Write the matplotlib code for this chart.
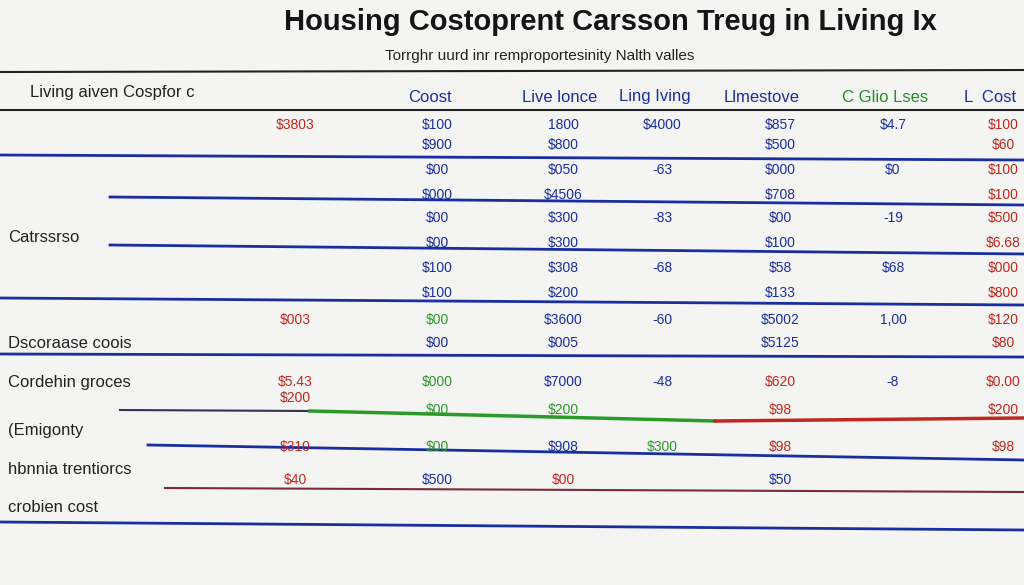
import matplotlib
matplotlib.use("Agg")
import matplotlib.pyplot as plt
plt.rcParams['font.family'] = ['Liberation Sans', 'DejaVu Sans']

title = "Housing Costoprent Carsson Treug in Living Ix"
subtitle = "Torrghr uurd inr remproportesinity Nalth valles"
headers = ["Coost", "Live lonce", "Ling Iving", "Llmestove", "C Glio Lses", "L  Cost"]
header_colors = ["#1a2ea0", "#1a2ea0", "#1a2ea0", "#1a2ea0", "#2a8a2a", "#1a2ea0"]
row_labels = ["Living aiven Cospfor c", "Catrssrso", "Dscoraase coois",
              "Cordehin groces", "(Emigonty", "hbnnia trentiorcs", "crobien cost"]
row_label_y = [93, 237, 343, 382, 430, 470, 508]

cells = [
    (125, ["$3803", "$100", "1800", "$4000", "$857", "$4.7", "$100"]),
    (145, ["", "$900", "$800", "", "$500", "", "$60"]),
    (170, ["", "$00", "$050", "-63", "$000", "$0", "$100"]),
    (195, ["", "$000", "$4506", "", "$708", "", "$100"]),
    (218, ["", "$00", "$300", "-83", "$00", "-19", "$500"]),
    (243, ["", "$00", "$300", "", "$100", "", "$6.68"]),
    (268, ["", "$100", "$308", "-68", "$58", "$68", "$000"]),
    (293, ["", "$100", "$200", "", "$133", "", "$800"]),
    (320, ["$003", "$00", "$3600", "-60", "$5002", "1,00", "$120"]),
    (343, ["", "$00", "$005", "", "$5125", "", "$80"]),
    (382, ["$5.43", "$000", "$7000", "-48", "$620", "-8", "$0.00"]),
    (398, ["$200", "", "", "", "", "", ""]),
    (410, ["", "$00", "$200", "", "$98", "", "$200"]),
    (447, ["$310", "$00", "$908", "$300", "$98", "", "$98"]),
    (480, ["$40", "$500", "$00", "", "$50", "", ""]),
]
col_x = [295, 437, 563, 662, 780, 893, 1003]
col_color = ["#c0281e", "#1a2ea0", "#1a2ea0", "#1a2ea0", "#1a2ea0", "#1a2ea0", "#c0281e"]
green_cells = {(320, 1), (382, 1), (410, 1), (410, 2), (447, 1), (447, 3)}
red_cells = {(382, 4), (410, 4), (447, 4), (480, 2)}

lines = [
    (0, 72, 1024, 70, "#222222", 1.5),
    (0, 110, 1024, 110, "#222222", 1.5),
    (0, 155, 1024, 160, "#1a2ea0", 2),
    (110, 197, 1024, 205, "#1a2ea0", 2),
    (110, 245, 1024, 254, "#1a2ea0", 2),
    (0, 298, 1024, 305, "#1a2ea0", 2),
    (0, 354, 1024, 357, "#1a2ea0", 2),
    (120, 410, 310, 411, "#333355", 1.5),
    (310, 411, 715, 421, "#2a9a2a", 2.5),
    (715, 421, 1024, 418, "#c0281e", 2.5),
    (148, 445, 1024, 460, "#1a2ea0", 2),
    (165, 488, 1024, 492, "#7a2a3a", 1.5),
    (0, 522, 1024, 530, "#1a2ea0", 2),
]

fig = plt.figure(figsize=(10.24, 5.85), dpi=100, facecolor="#f4f4f2")
ax = fig.add_axes([0, 0, 1, 1])
ax.set_xlim(0, 1024); ax.set_ylim(585, 0); ax.axis("off")

ax.text(610, 22, title, ha="center", va="center", fontsize=21, fontweight="bold", color="#151515")
ax.text(540, 56, subtitle, ha="center", va="center", fontsize=11, color="#222222")
hx = [430, 560, 655, 762, 885, 990]
for x, h, c in zip(hx, headers, header_colors):
    ax.text(x, 97, h, ha="center", va="center", fontsize=12, color=c)
for lab, y in zip(row_labels, row_label_y):
    ax.text(8 if y != 93 else 30, y, lab, ha="left", va="center", fontsize=12, color="#222222")
for x0, y0, x1, y1, c, w in lines:
    ax.plot([x0, x1], [y0, y1], color=c, lw=w)
for y, vals in cells:
    for i, v in enumerate(vals):
        if not v:
            continue
        c = col_color[i]
        if (y, i) in green_cells:
            c = "#2a9a2a"
        elif (y, i) in red_cells:
            c = "#c0281e"
        ax.text(col_x[i], y, v, ha="center", va="center", fontsize=10, color=c)

fig.savefig("out.png", dpi=100, facecolor=fig.get_facecolor())
